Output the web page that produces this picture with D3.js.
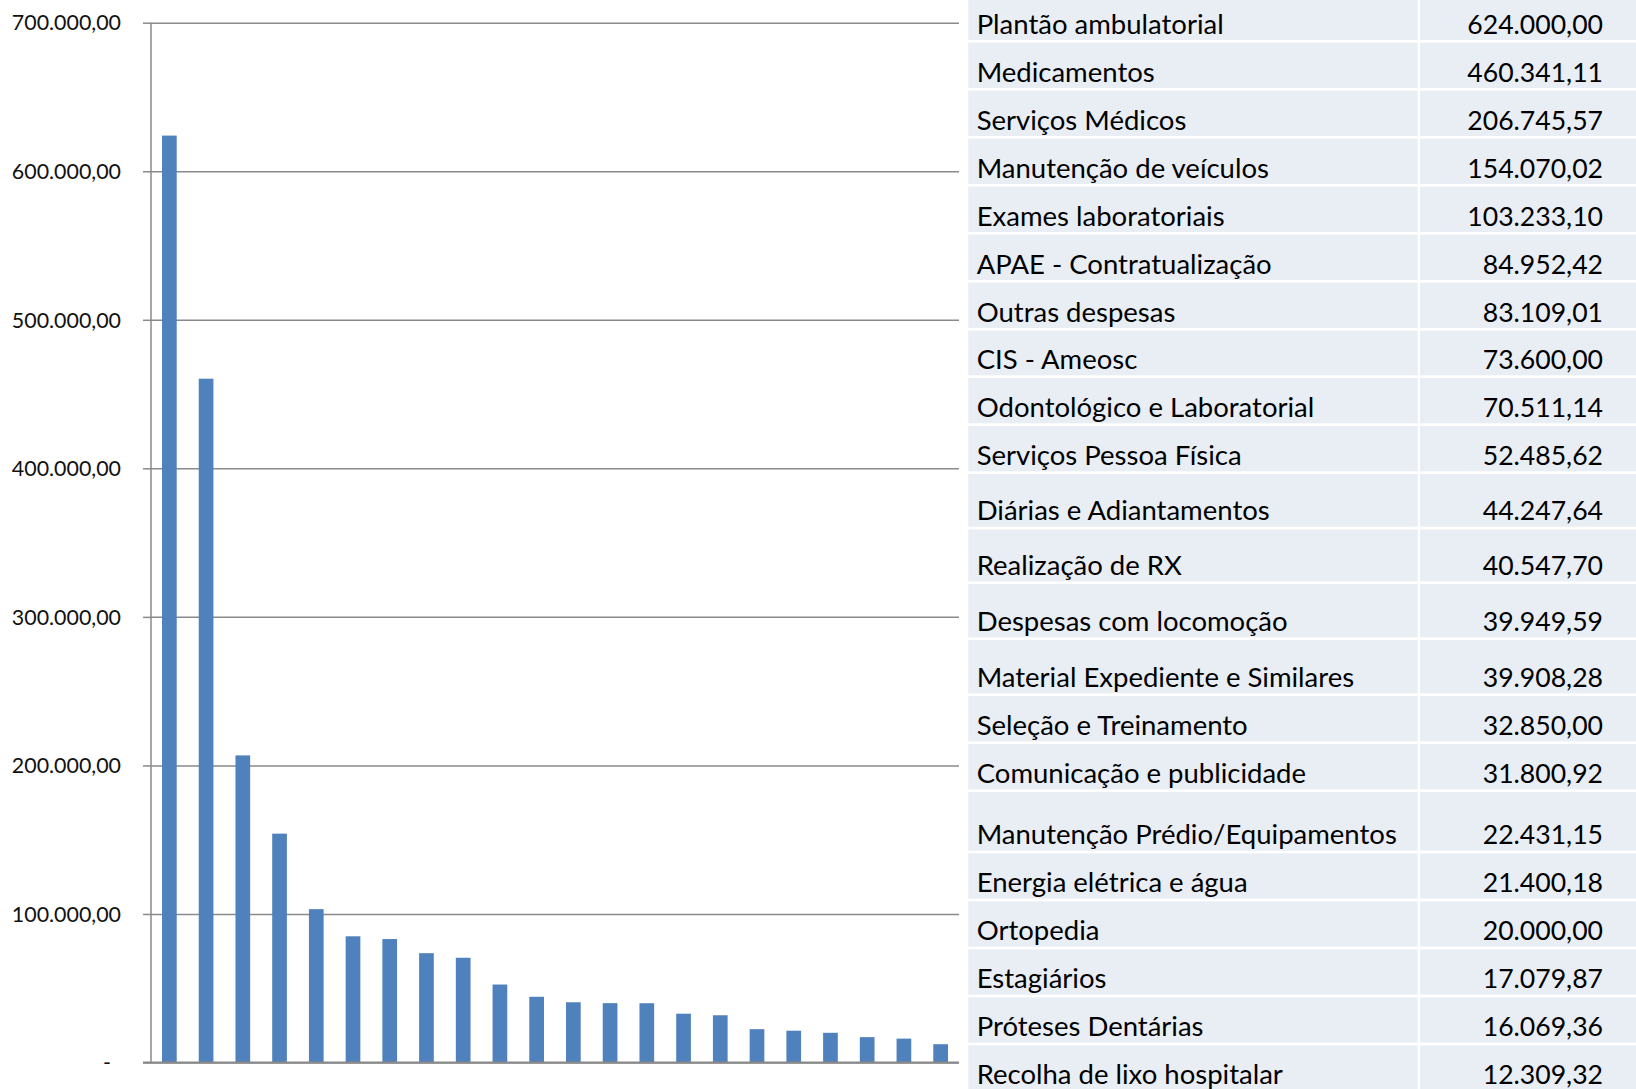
<!DOCTYPE html>
<html>
<head>
<meta charset="utf-8">
<script src="https://cdn.jsdelivr.net/npm/d3@7"></script>
<style>
  html, body { margin: 0; padding: 0; background: #ffffff; }
  svg { display: block; }
</style>
</head>
<body>
<svg id="chart" width="1636" height="1089"></svg>
<script>
// ---------------- data ----------------
const categories = [
  "Plantão ambulatorial",
  "Medicamentos",
  "Serviços Médicos",
  "Manutenção de veículos",
  "Exames laboratoriais",
  "APAE - Contratualização",
  "Outras despesas",
  "CIS - Ameosc",
  "Odontológico e Laboratorial",
  "Serviços Pessoa Física",
  "Diárias e Adiantamentos",
  "Realização de RX",
  "Despesas com locomoção",
  "Material Expediente e Similares",
  "Seleção e Treinamento",
  "Comunicação e publicidade",
  "Manutenção Prédio/Equipamentos",
  "Energia elétrica e água",
  "Ortopedia",
  "Estagiários",
  "Próteses Dentárias",
  "Recolha de lixo hospitalar"
];
const values = [
  624000.00, 460341.11, 206745.57, 154070.02, 103233.10, 84952.42,
  83109.01, 73600.00, 70511.14, 52485.62, 44247.64, 40547.70,
  39949.59, 39908.28, 32850.00, 31800.92, 22431.15, 21400.18,
  20000.00, 17079.87, 16069.36, 12309.32
];
const yTicks = [0, 100000, 200000, 300000, 400000, 500000, 600000, 700000];

// ---------------- layout (not data) ----------------
const plot = { left: 151, right: 959, top: 22.7, bottom: 1062.5 };
const table = { left: 968.3, split: 1417.7, splitGap: 2.4, right: 1636, firstBottom: 40, gap: 2.7,
                textX: 976.7, valueX: 1603, baselineOffset: 6.5 };
// vertical pitch of each table row after the first
const rowPitch = [48,48,48,48,48,48,47.3,48,48,55.4,54.6,56,56,48,48,61.4,48,48,48,48,48];

const ptBR = d3.formatLocale({ decimal: ",", thousands: ".", grouping: [3], currency: ["", ""] });
const fmt = ptBR.format(",.2f");

const svg = d3.select("#chart");

// ---------------- scales ----------------
const x = d3.scaleBand()
  .domain(categories)
  .range([plot.left, plot.right])
  .paddingInner(0.6)
  .paddingOuter(0.3);

const y = d3.scaleLinear()
  .domain([0, 700000])
  .range([plot.bottom, plot.top]);

// ---------------- gridlines ----------------
const grid = svg.append("g")
  .attr("transform", `translate(${plot.left},0)`)
  .call(d3.axisLeft(y).tickValues(yTicks).tickSize(-(plot.right - plot.left)).tickFormat(""));
grid.select(".domain").remove();
grid.selectAll(".tick line")
  .attr("stroke", "#8a8a8a")
  .attr("stroke-width", 1.5);

// ---------------- bars ----------------
svg.append("g")
  .selectAll("rect")
  .data(values)
  .join("rect")
  .attr("x", (d, i) => x(categories[i]))
  .attr("width", x.bandwidth())
  .attr("y", d => y(d))
  .attr("height", d => y(0) - y(d))
  .attr("fill", "#4f81bd");

// ---------------- y axis ----------------
const yAxis = svg.append("g")
  .attr("transform", `translate(${plot.left},0)`)
  .call(d3.axisLeft(y).tickValues(yTicks).tickSize(8).tickPadding(22)
    .tickFormat(d => d === 0 ? "-" : fmt(d)));
yAxis.select(".domain")
  .attr("stroke", "#8a8a8a")
  .attr("stroke-width", 1.5)
  .attr("d", `M0,${plot.top}V${plot.bottom}`);
yAxis.selectAll(".tick line").attr("stroke", "#8a8a8a").attr("stroke-width", 1.5);
yAxis.selectAll(".tick text")
  .attr("font-family", "Lato, 'Open Sans', sans-serif")
  .attr("font-size", 21.4)
  .attr("fill", "#111")
  .attr("dy", "0.34em");
yAxis.selectAll(".tick text").filter(d => d === 0).attr("dx", -10);

// x baseline
svg.append("line")
  .attr("x1", plot.left - 8).attr("x2", plot.right)
  .attr("y1", y(0)).attr("y2", y(0))
  .attr("stroke", "#8a8a8a").attr("stroke-width", 1.8);

// ---------------- table ----------------
const bottoms = [table.firstBottom];
rowPitch.forEach(p => bottoms.push(bottoms[bottoms.length - 1] + p));
const tops = bottoms.map((b, i) => i === 0 ? 0 : bottoms[i - 1] + table.gap);

const rows = svg.append("g").selectAll("g")
  .data(categories)
  .join("g");

rows.append("rect")
  .attr("x", table.left)
  .attr("y", (d, i) => tops[i])
  .attr("width", table.split - table.left)
  .attr("height", (d, i) => bottoms[i] - tops[i])
  .attr("fill", "#e9edf4");
rows.append("rect")
  .attr("x", table.split + table.splitGap)
  .attr("y", (d, i) => tops[i])
  .attr("width", table.right - table.split - table.splitGap)
  .attr("height", (d, i) => bottoms[i] - tops[i])
  .attr("fill", "#e9edf4");

rows.append("text")
  .attr("x", table.textX)
  .attr("y", (d, i) => bottoms[i] - table.baselineOffset)
  .attr("font-family", "Lato, 'Open Sans', sans-serif")
  .attr("font-size", 27.5)
  .attr("fill", "#000")
  .text(d => d);

rows.append("text")
  .attr("x", table.valueX)
  .attr("y", (d, i) => bottoms[i] - table.baselineOffset)
  .attr("text-anchor", "end")
  .attr("font-family", "Lato, 'Open Sans', sans-serif")
  .attr("font-size", 26.6)
  .attr("fill", "#000")
  .text((d, i) => fmt(values[i]));
</script>
</body>
</html>
